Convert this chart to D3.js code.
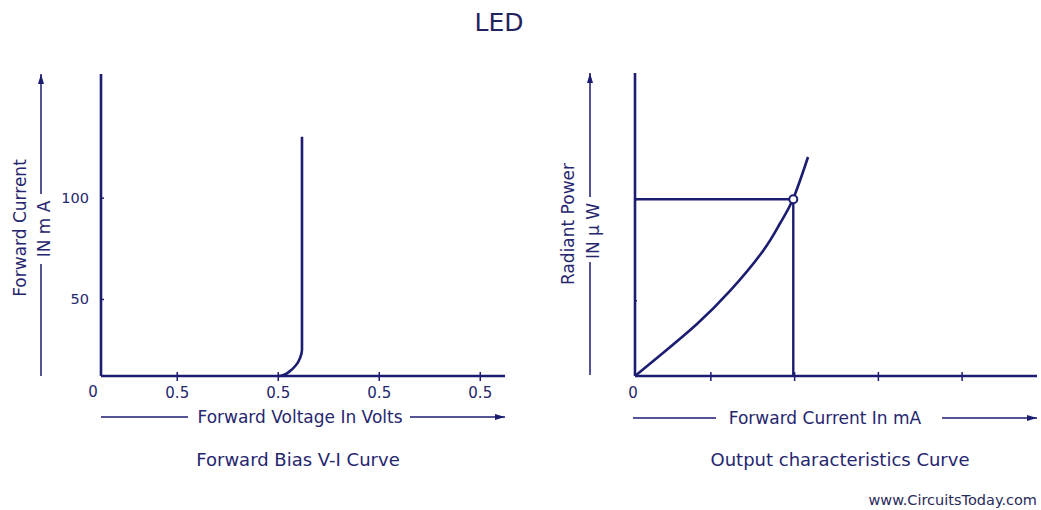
<!DOCTYPE html>
<html><head><meta charset="utf-8">
<script src="https://cdn.jsdelivr.net/npm/d3@7"></script>
<style>
html,body{margin:0;padding:0;background:#fff;}
svg{display:block;font-family:"DejaVu Sans",Verdana,sans-serif;}
</style></head>
<body>
<svg id="c" width="1041" height="510"></svg>
<script>
// ---- data ----
const title = "LED";
// Left panel: Forward Bias V-I curve (schematic units)
const viTickVals = [0.75, 1.75, 2.75, 3.75];
const viTickLabels = ["0.5", "0.5", "0.5", "0.5"];
const viYTicks = [50, 100];
const viVoltage = [1.75, 1.80, 1.87, 1.93, 1.97, 1.99, 1.99];
const viCurrent = [11.9, 12.4, 14.4, 17.3, 20.8, 24.8, 130];
// Right panel: Output characteristics
const ocTickVals = [0.9, 1.9, 2.9, 3.9];
const ocYTicks = [0.75, 1.75];
const ocCurrent = [0, 0.334, 0.74, 1.134, 1.528, 1.731, 1.887, 2.066];
const ocPower = [0, 0.228, 0.515, 0.842, 1.238, 1.51, 1.752, 2.168];
const ocMarker = [1.89, 1.75];

const LINE = "#1c1c72", TEXT = "#26266e";
const svg = d3.select("#c");

svg.append("text").attr("x", 499).attr("y", 31).attr("text-anchor", "middle")
  .attr("font-size", 25).attr("fill", "#22225e").text(title);

const defs = svg.append("defs");
defs.append("marker").attr("id", "ah").attr("viewBox", "0 0 10 6").attr("refX", 10).attr("refY", 3)
  .attr("markerWidth", 10).attr("markerHeight", 6).attr("markerUnits", "userSpaceOnUse").attr("orient", "auto")
  .append("path").attr("d", "M0,0 L10,3 L0,6 Z").attr("fill", LINE);

function vArrow(x, y0, y1, gapA, gapB) {
  svg.append("line").attr("x1", x).attr("x2", x).attr("y1", y0).attr("y2", gapB)
    .attr("stroke", LINE).attr("stroke-width", 1.5);
  svg.append("line").attr("x1", x).attr("x2", x).attr("y1", gapA).attr("y2", y1)
    .attr("stroke", LINE).attr("stroke-width", 1.5).attr("marker-end", "url(#ah)");
}
function hArrow(y, x0, x1, gapA, gapB) {
  svg.append("line").attr("x1", x0).attr("x2", gapA).attr("y1", y).attr("y2", y)
    .attr("stroke", LINE).attr("stroke-width", 1.5);
  svg.append("line").attr("x1", gapB).attr("x2", x1).attr("y1", y).attr("y2", y)
    .attr("stroke", LINE).attr("stroke-width", 1.5).attr("marker-end", "url(#ah)");
}
function label(x, y, txt, size, rot) {
  const t = svg.append("text").attr("text-anchor", "middle").attr("dominant-baseline", "central")
    .attr("font-size", size).attr("fill", TEXT).text(txt);
  if (rot) t.attr("transform", `translate(${x},${y}) rotate(-90)`);
  else t.attr("x", x).attr("y", y);
  return t;
}

// ===== Left panel =====
const xL = d3.scaleLinear().domain([0, 4]).range([101, 505]);
const yL = d3.scaleLinear().domain([12, 161]).range([376, 74]);

const gLx = svg.append("g").attr("transform", `translate(0,${yL(12)})`)
  .call(d3.axisBottom(xL).tickValues(viTickVals).tickFormat((d, i) => viTickLabels[i]).tickSize(5).tickPadding(6));
const gLy = svg.append("g").attr("transform", `translate(${xL(0)},0)`)
  .call(d3.axisLeft(yL).tickValues(viYTicks).tickSize(5).tickPadding(7));
[gLx, gLy].forEach(g => {
  g.select(".domain").attr("stroke", LINE).attr("stroke-width", 2.6);
  g.selectAll(".tick line").attr("stroke", LINE).attr("stroke-width", 1.5);
  g.selectAll(".tick text").attr("fill", TEXT).attr("font-family", "DejaVu Sans");
});
gLx.selectAll(".tick text").attr("font-size", 15);
gLy.selectAll(".tick text").attr("font-size", 14.5);
gLx.select(".domain").attr("d", `M${xL(0)},0H${xL(4)}`);
gLx.selectAll(".tick line").attr("y1", -4);
gLy.select(".domain").attr("d", `M0,${yL(12)}V${yL(161)}`);
gLy.selectAll(".tick line").attr("x2", 3);
label(93, 392, "0", 15);

svg.append("path").datum(viVoltage.map((v, i) => [v, viCurrent[i]]))
  .attr("d", d3.line().x(d => xL(d[0])).y(d => yL(d[1])).curve(d3.curveMonotoneY))
  .attr("fill", "none").attr("stroke", LINE).attr("stroke-width", 2.6);

label(20, 228, "Forward Current", 17, true);
label(44, 229, "IN m A", 17, true);
vArrow(41, 376, 74, 194, 264);
label(300, 417, "Forward Voltage In Volts", 17);
hArrow(417, 101, 505, 188, 410);
label(298, 459, "Forward Bias V-I Curve", 18);

// ===== Right panel =====
const xR = d3.scaleLinear().domain([0, 4.8]).range([635, 1037]);
const yR = d3.scaleLinear().domain([0, 3]).range([376, 73]);

const gRx = svg.append("g").attr("transform", `translate(0,${yR(0)})`)
  .call(d3.axisBottom(xR).tickValues(ocTickVals).tickFormat("").tickSize(5));
const gRy = svg.append("g").attr("transform", `translate(${xR(0)},0)`)
  .call(d3.axisLeft(yR).tickValues(ocYTicks).tickFormat("").tickSize(6));
[gRx, gRy].forEach(g => {
  g.select(".domain").attr("stroke", LINE).attr("stroke-width", 2.6);
  g.selectAll(".tick line").attr("stroke", LINE).attr("stroke-width", 1.5);
});
gRx.select(".domain").attr("d", `M${xR(0)},0H${xR(4.8)}`);
gRx.selectAll(".tick line").attr("y1", -4);
gRy.select(".domain").attr("d", `M0,${yR(0)}V${yR(3)}`);
gRy.selectAll(".tick line").attr("x2", 2);
label(633, 393, "0", 15);

svg.append("path")
  .attr("d", `M${xR(0)},${yR(ocMarker[1])}H${xR(ocMarker[0])}V${yR(0)}`)
  .attr("fill", "none").attr("stroke", LINE).attr("stroke-width", 2.4);

svg.append("path").datum(ocCurrent.map((v, i) => [v, ocPower[i]]))
  .attr("d", d3.line().x(d => xR(d[0])).y(d => yR(d[1])).curve(d3.curveNatural))
  .attr("fill", "none").attr("stroke", LINE).attr("stroke-width", 2.6);

svg.append("circle").attr("cx", xR(ocMarker[0])).attr("cy", yR(ocMarker[1])).attr("r", 4)
  .attr("fill", "#fff").attr("stroke", LINE).attr("stroke-width", 2);

label(568, 224, "Radiant Power", 17, true);
label(593, 231, "IN \u00b5 W", 17, true);
vArrow(590, 375, 73, 197, 262);
label(825, 418, "Forward Current In mA", 17);
hArrow(418, 633, 1037, 716, 942);
label(840, 459, "Output characteristics Curve", 18);

svg.append("text").attr("x", 1037).attr("y", 505).attr("text-anchor", "end")
  .attr("font-size", 14.5).attr("fill", "#2a2a5a").text("www.CircuitsToday.com");
</script>
</body></html>
